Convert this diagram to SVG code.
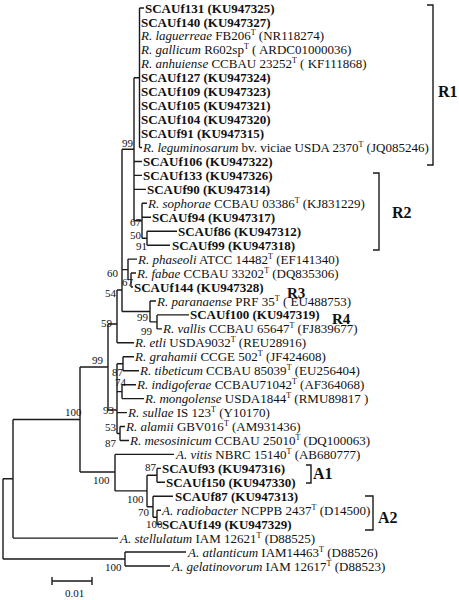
<svg xmlns="http://www.w3.org/2000/svg" width="459" height="600" viewBox="0 0 459 600">
<style>
text{font-family:"Liberation Serif","Times New Roman",serif;font-size:13px;fill:#111}
.b{font-weight:bold}
.i{font-style:italic}
.s{font-size:8px}
.bs{font-size:11px}
.cl{font-size:16px;font-weight:bold}
.cs{font-size:15px;font-weight:bold}
.ln{fill:none;stroke:#1a1a1a;stroke-width:1.4}
</style>
<rect width="459" height="600" fill="#fff"/>
<g id="connectors" class="ln">
<path d="M139.5,8V147.5M139.5,8H144M139.5,147.5H142M134,77.8H139.5M134,77.8V220.7M134,161.5H142M134,175.4H142M134,189.4H146M122,149.2H134"/>
<path d="M134,220.7H142M142,203.3V238.2M142,203.3H147M142,217.3H151M142,238.2H147M147,231.2V245.2M147,231.2H177M147,245.2H170"/>
<path d="M122,149.2V311.5M128,259.1V280M128,259.1H137M131,273V287M131,273H136M131,287H133M122,269.6H128"/>
<path d="M150,301V321.9M150,301H156M157,314.9V328.9M157,314.9H189M157,328.9H162M150,321.9H157M122,311.5H150"/>
<path d="M117,290V342.8M117,290H122M117,342.8H134M108,324V410M108,324H117M80,367H108"/>
<path d="M123,356.8V370.7M123,356.8H134M123,370.7H139M117,363.7H123M122,384.7V398.6M122,384.7H136M122,398.6H144M117,391.6H122M117,363.7V433.5M108,410H117M117,412.6H127M120,426.5V440.5M120,426.5H125M120,440.5H129M117,433.5H120"/>
<path d="M80,367V472M13,419.5H80M115,454.4V490.9M115,454.4H174M80,472H115M147,475.3V506.7M115,490.9H147M157,468.4V482.3M157,468.4H161M157,482.3H165M147,475.3H157M153,496.3V517.2M153,496.3H173M157,510.2V524.2M157,510.2H161M157,524.2H161M153,517.2H157M147,506.7H153"/>
<path d="M13,419.5V538.1M13,538.1H118M3,478.8H13M3,478.8V559M3,559H125M125,552V566M125,552H186M125,566H170"/>
<path d="M52,581H92M52,577V585M92,577V585"/>
<path d="M427,5H433V165H427M373,173H379V250H373M306,465H311V483H306M365,496H373V530H365"/>
</g>
<g id="leaves">
<text x="145" y="12.5" class="b">SCAUf131 (KU947325)</text>
<text x="141" y="26.5" class="b">SCAUf140 (KU947327)</text>
<text x="141" y="40.4"><tspan class="i">R. laguerreae</tspan> FB206<tspan class="s" dy="-5">T</tspan><tspan dy="5"> (NR118274)</tspan></text>
<text x="141" y="54.4"><tspan class="i">R. gallicum</tspan> R602sp<tspan class="s" dy="-5">T</tspan><tspan dy="5"> ( ARDC01000036)</tspan></text>
<text x="141" y="68.3"><tspan class="i">R. anhuiense</tspan> CCBAU 23252<tspan class="s" dy="-5">T</tspan><tspan dy="5"> ( KF111868)</tspan></text>
<text x="141" y="82.3" class="b">SCAUf127 (KU947324)</text>
<text x="141" y="96.2" class="b">SCAUf109 (KU947323)</text>
<text x="141" y="110.2" class="b">SCAUf105 (KU947321)</text>
<text x="141" y="124.1" class="b">SCAUf104 (KU947320)</text>
<text x="141" y="138.1" class="b">SCAUf91 (KU947315)</text>
<text x="143" y="152"><tspan class="i">R. leguminosarum</tspan> bv. viciae USDA 2370<tspan class="s" dy="-5">T</tspan><tspan dy="5"> (JQ085246)</tspan></text>
<text x="143" y="166" class="b">SCAUf106 (KU947322)</text>
<text x="143" y="179.9" class="b">SCAUf133 (KU947326)</text>
<text x="147" y="193.9" class="b">SCAUf90 (KU947314)</text>
<text x="148" y="207.8"><tspan class="i">R. sophorae</tspan> CCBAU 03386<tspan class="s" dy="-5">T</tspan><tspan dy="5"> (KJ831229)</tspan></text>
<text x="152" y="221.8" class="b">SCAUf94 (KU947317)</text>
<text x="178" y="235.7" class="b">SCAUf86 (KU947312)</text>
<text x="172" y="249.7" class="b">SCAUf99 (KU947318)</text>
<text x="138" y="263.6"><tspan class="i">R. phaseoli</tspan> ATCC 14482<tspan class="s" dy="-5">T</tspan><tspan dy="5"> (EF141340)</tspan></text>
<text x="137" y="277.6"><tspan class="i">R. fabae</tspan> CCBAU 33202<tspan class="s" dy="-5">T</tspan><tspan dy="5"> (DQ835306)</tspan></text>
<text x="134" y="291.5" class="b">SCAUf144 (KU947328)</text>
<text x="157" y="305.5"><tspan class="i">R. paranaense</tspan> PRF 35<tspan class="s" dy="-5">T</tspan><tspan dy="5"> ( EU488753)</tspan></text>
<text x="190" y="319.4" class="b">SCAUf100 (KU947319)</text>
<text x="163" y="333.4"><tspan class="i">R. vallis</tspan> CCBAU 65647<tspan class="s" dy="-5">T</tspan><tspan dy="5"> (FJ839677)</tspan></text>
<text x="135" y="347.3"><tspan class="i">R. etli</tspan> USDA9032<tspan class="s" dy="-5">T</tspan><tspan dy="5"> (REU28916)</tspan></text>
<text x="135" y="361.3"><tspan class="i">R. grahamii</tspan> CCGE 502<tspan class="s" dy="-5">T</tspan><tspan dy="5"> (JF424608)</tspan></text>
<text x="140" y="375.2"><tspan class="i">R. tibeticum</tspan> CCBAU 85039<tspan class="s" dy="-5">T</tspan><tspan dy="5"> (EU256404)</tspan></text>
<text x="137" y="389.2"><tspan class="i">R. indigoferae</tspan> CCBAU71042<tspan class="s" dy="-5">T</tspan><tspan dy="5"> (AF364068)</tspan></text>
<text x="145" y="403.1"><tspan class="i">R. mongolense</tspan> USDA1844<tspan class="s" dy="-5">T</tspan><tspan dy="5"> (RMU89817 )</tspan></text>
<text x="128" y="417.1"><tspan class="i">R. sullae</tspan> IS 123<tspan class="s" dy="-5">T</tspan><tspan dy="5"> (Y10170)</tspan></text>
<text x="126" y="431"><tspan class="i">R. alamii</tspan> GBV016<tspan class="s" dy="-5">T</tspan><tspan dy="5"> (AM931436)</tspan></text>
<text x="130" y="445"><tspan class="i">R. mesosinicum</tspan> CCBAU 25010<tspan class="s" dy="-5">T</tspan><tspan dy="5"> (DQ100063)</tspan></text>
<text x="176" y="458.9"><tspan class="i">A. vitis</tspan> NBRC 15140<tspan class="s" dy="-5">T</tspan><tspan dy="5"> (AB680777)</tspan></text>
<text x="162" y="472.9" class="b">SCAUf93 (KU947316)</text>
<text x="166" y="486.8" class="b">SCAUf150 (KU947330)</text>
<text x="175" y="500.8" class="b">SCAUf87 (KU947313)</text>
<text x="162" y="514.7"><tspan class="i">A. radiobacter</tspan> NCPPB 2437<tspan class="s" dy="-5">T</tspan><tspan dy="5"> (D14500)</tspan></text>
<text x="162" y="528.7" class="b">SCAUf149 (KU947329)</text>
<text x="120" y="542.6"><tspan class="i">A. stellulatum</tspan> IAM 12621<tspan class="s" dy="-5">T</tspan><tspan dy="5"> (D88525)</tspan></text>
<text x="188" y="556.6"><tspan class="i">A. atlanticum</tspan> IAM14463<tspan class="s" dy="-5">T</tspan><tspan dy="5"> (D88526)</tspan></text>
<text x="172" y="570.5"><tspan class="i">A. gelatinovorum</tspan> IAM 12617<tspan class="s" dy="-5">T</tspan><tspan dy="5"> (D88523)</tspan></text>
</g>
<g id="bootstrap">
<text x="122" y="147" class="bs">99</text>
<text x="130" y="226" class="bs">67</text>
<text x="130" y="239" class="bs">50</text>
<text x="136" y="250" class="bs">91</text>
<text x="107" y="277" class="bs">60</text>
<text x="122" y="286" class="bs">67</text>
<text x="105" y="297" class="bs">54</text>
<text x="137" y="321" class="bs">99</text>
<text x="101" y="327" class="bs">59</text>
<text x="141" y="334.5" class="bs">99</text>
<text x="92" y="364" class="bs">99</text>
<text x="112" y="376" class="bs">87</text>
<text x="115" y="386" class="bs">74</text>
<text x="65" y="416" class="bs">100</text>
<text x="103" y="414" class="bs">93</text>
<text x="105" y="431" class="bs">53</text>
<text x="105" y="447" class="bs">87</text>
<text x="93" y="484" class="bs">100</text>
<text x="145" y="471" class="bs">87</text>
<text x="127" y="503" class="bs">100</text>
<text x="138" y="516" class="bs">70</text>
<text x="146" y="528" class="bs">100</text>
<text x="105" y="571" class="bs">100</text>
</g>
<g id="clusters">
<text x="438" y="97" class="cl">R1</text>
<text x="392" y="218" class="cl">R2</text>
<text x="287" y="298" class="cs">R3</text>
<text x="332" y="323.5" class="cs">R4</text>
<text x="313" y="479" class="cl">A1</text>
<text x="378" y="523" class="cl">A2</text>
</g>
<g id="scale">
<text x="65" y="597" class="bs">0.01</text>
</g>
</svg>
